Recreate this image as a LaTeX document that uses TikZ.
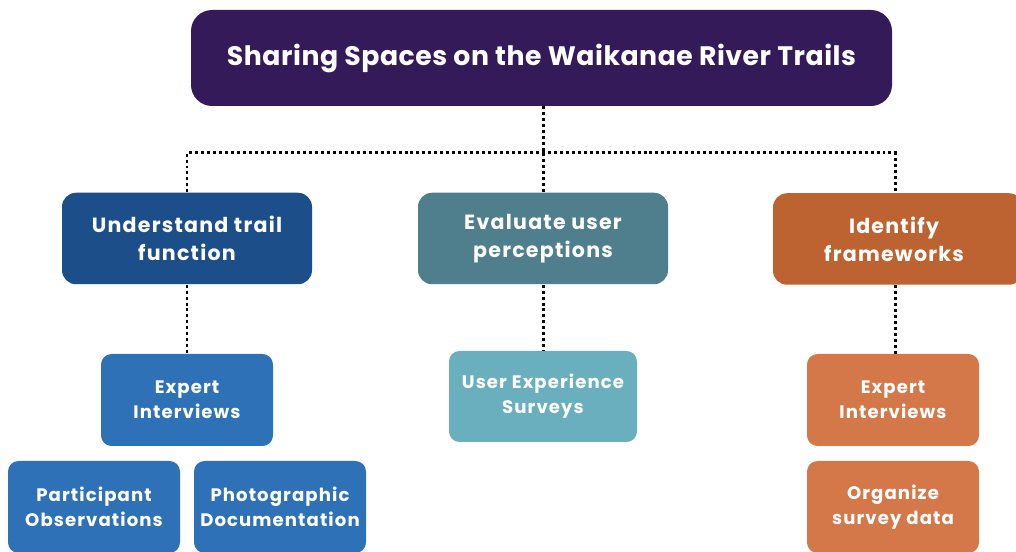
\documentclass[tikz,border=0pt]{standalone}
\usepackage{fontspec}
\setmainfont{Poppins}
\usetikzlibrary{calc}
\definecolor{titlepurple}{HTML}{341A58}
\definecolor{trailblue}{HTML}{1C4E89}
\definecolor{perceptteal}{HTML}{4F7E8C}
\definecolor{frameorange}{HTML}{BD6332}
\definecolor{lightblue}{HTML}{2E71B7}
\definecolor{lightteal}{HTML}{6AAFBE}
\definecolor{lightorange}{HTML}{D4784A}
\tikzset{
	box/.style={rounded corners=8pt, text=white, align=center, inner sep=0pt,
		font=\bfseries\addfontfeatures{LetterSpace=6}},
	mainbox/.style={box, minimum width=5cm, minimum height=1.83cm, font=\fontsize{11.7}{16}\bfseries\addfontfeatures{LetterSpace=6}\selectfont},
	subbox/.style={box, minimum width=3.44cm, minimum height=1.84cm, rounded corners=6pt, font=\fontsize{10.3}{14.2}\bfseries\addfontfeatures{LetterSpace=6}\selectfont},
	link/.style={line width=1.7pt, dash pattern=on 1.7pt off 1.7pt}
}

\begin{document}
\begin{tikzpicture}
				\useasboundingbox[fill=white] (0, 0) rectangle (20.32, -11.04);
				
				\node[box, fill=titlepurple, minimum width=14.02cm, minimum height=1.92cm, rounded corners=12pt,
					font=\fontsize{15.2}{18}\bfseries\addfontfeatures{LetterSpace=2}\selectfont] (title) at (10.83, -1.16) {Sharing Spaces on the Waikanae River Trails};
				
				\node[mainbox, fill=trailblue] (trail) at (3.74, -4.77) {Understand trail\\function};
				\node[mainbox, fill=perceptteal] (percep) at (10.86, -4.77) {Evaluate user\\perceptions};
				\node[mainbox, fill=frameorange] (frame) at (17.96, -4.78) {\hspace*{-0.16cm}Identify\\\hspace*{-0.16cm}frameworks};
				
				\node[subbox, fill=lightblue] (expertL) at (3.74, -8.0) {Expert\\Interviews};
				\node[subbox, fill=lightblue] (partic) at (1.88, -10.14) {Participant\\Observations};
				\node[subbox, fill=lightblue] (photo) at (5.6, -10.14) {Photographic\\Documentation};
				
				\node[subbox, fill=lightteal, minimum width=3.76cm, minimum height=1.82cm] (survey) at (10.86, -7.93) {User Experience\\Surveys};
				
				\node[subbox, fill=lightorange] (expertR) at (17.86, -8.0) {Expert\\Interviews};
				\node[subbox, fill=lightorange] (organize) at (17.86, -10.14) {Organize\\survey data};
				
				\coordinate (hub) at (10.86, -3.06);
				\coordinate (hubL) at (3.74, -3.06);
				\coordinate (hubR) at (17.9, -3.06);
				
				\draw[link] (hub |- title.south) -- (hub);
				\draw[link] (hubL |- trail.north) -- (hubL) -- (hubR) -- (hubR |- frame.north);
				\draw[link] (hub) -- (percep.north);
				
				\draw[link] (trail.south) -- (expertL.north);
				\draw[link] (percep.south) -- (survey.north);
				\draw[link] (hubR |- frame.south) -- (hubR |- expertR.north);
			\end{tikzpicture}
\end{document}
